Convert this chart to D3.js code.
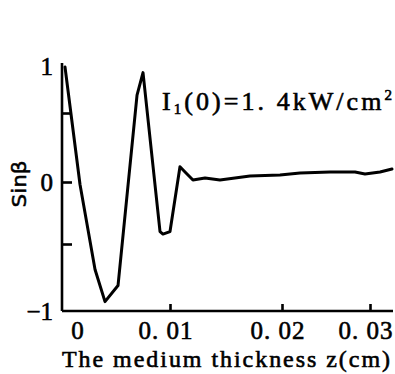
<!DOCTYPE html>
<html lang="en">
<head>
  <meta charset="UTF-8">
  <title>Sin beta vs medium thickness</title>
  <script src="https://cdnjs.cloudflare.com/ajax/libs/d3/7.8.5/d3.min.js"></script>
  <style>
    body { margin: 0; background: #fff; }
    svg { display: block; }
    .axis path, .axis line { stroke: #000; stroke-width: 2.6px; }
    .curve { fill: none; stroke: #000; stroke-width: 3px; stroke-linejoin: round; stroke-linecap: round; }
  </style>
</head>
<body>
  <svg width="395" height="374"></svg>
  <script>
    // 数据
    var zTicks = [0, 0.01, 0.02, 0.03]
    var zTickLabels = ["0", "0. 01", "0. 02", "0. 03"]
    var sinTicks = [-0.5, 0, 0.5]
    var sinLabelValues = [-1, 0, 1]
    var sinLabels = ["\u22121", "0", "1"]

    var zData = [0, 0.00143, 0.00286, 0.00381, 0.00505, 0.00686, 0.00743, 0.00905, 0.00933, 0.0100,
                 0.01089, 0.01143, 0.01205, 0.01313, 0.01446, 0.01714, 0.01982, 0.02205, 0.02545,
                 0.02830, 0.02943, 0.03114, 0.03250]
    var sinData = [0.99, -0.02, -0.69, -0.93, -0.81, 0.69, 0.93, -0.40, -0.42, -0.40,
                   0.11, 0.065, 0.014, 0.029, 0.014, 0.043, 0.051, 0.065, 0.072,
                   0.072, 0.058, 0.072, 0.094]

    var svg = d3.select("svg")

    // hand drawn axes are uneven, so piecewise scales
    var x = d3.scaleLinear().domain([0, 0.01, 0.02, 0.03]).range([65, 170, 282, 370])
    var y = d3.scaleLinear().domain([-1, -0.5, 0, 0.5, 1]).range([311, 244, 182, 113, 66])

    var x0 = 62, y0 = 311

    function serif(t, size) {
      t.style("font-family", "'Liberation Serif', serif")
       .style("font-size", size + "px")
       .style("fill", "#000")
       .style("stroke", "#000")
       .style("stroke-width", "0.6px")
    }

    // x axis
    var xAxis = svg.append("g")
      .attr("class", "axis")
      .attr("transform", "translate(0," + y0 + ")")
      .call(d3.axisBottom(x).tickValues(zTicks).tickSize(-7).tickSizeOuter(0).tickPadding(10)
        .tickFormat((d, i) => zTickLabels[i]))
    xAxis.select(".domain").attr("d", "M" + x0 + ",0H393")
    xAxis.selectAll(".tick line").attr("opacity", d => d === 0 ? 0 : 1)
    xAxis.selectAll(".tick text").call(serif, 25)
      .attr("dx", d => d === 0 ? 12 : -5)
      .attr("textLength", d => d === 0 ? null : 54)
      .attr("lengthAdjust", "spacing")

    // y axis ticks
    var yAxis = svg.append("g")
      .attr("class", "axis")
      .attr("transform", "translate(" + x0 + ",0)")
      .call(d3.axisLeft(y).tickValues(sinTicks).tickSize(-10).tickSizeOuter(0).tickFormat(""))
    yAxis.select(".domain").attr("d", "M0,63V" + y0)

    // y axis labels
    svg.append("g")
      .attr("class", "axis")
      .attr("transform", "translate(" + x0 + ",0)")
      .call(d3.axisLeft(y).tickValues(sinLabelValues).tickSize(0).tickPadding(9)
        .tickFormat((d, i) => sinLabels[i]))
      .call(g => g.select(".domain").remove())
      .selectAll(".tick text").call(serif, 25)

    // curve
    var line = d3.line().x(d => x(d[0])).y(d => y(d[1]))
    svg.append("path")
      .attr("class", "curve")
      .attr("d", line(d3.zip(zData, sinData)))

    // y title
    svg.append("text")
      .attr("transform", "translate(26,184) rotate(-90)")
      .attr("text-anchor", "middle")
      .attr("textLength", 47)
      .attr("lengthAdjust", "spacingAndGlyphs")
      .style("font-family", "'DejaVu Sans', sans-serif")
      .style("font-size", "20px")
      .style("stroke", "#000")
      .style("stroke-width", "0.5px")
      .text("Sinβ")

    // x title
    svg.append("text")
      .attr("x", 62)
      .attr("y", 367)
      .attr("textLength", 328)
      .attr("lengthAdjust", "spacing")
      .call(serif, 24)
      .text("The medium thickness z(cm)")

    // annotation
    var ann = svg.append("text")
      .attr("x", 162)
      .attr("y", 110)
      .attr("textLength", 230)
      .attr("lengthAdjust", "spacing")
      .call(serif, 26)
    ann.append("tspan").text("I")
    ann.append("tspan").attr("dy", 4).style("font-size", "15px").text("1")
    ann.append("tspan").attr("dy", -4).text("(0)=1. 4kW/cm")
    ann.append("tspan").attr("dy", -10).style("font-size", "15px").text("2")
  </script>
</body>
</html>
